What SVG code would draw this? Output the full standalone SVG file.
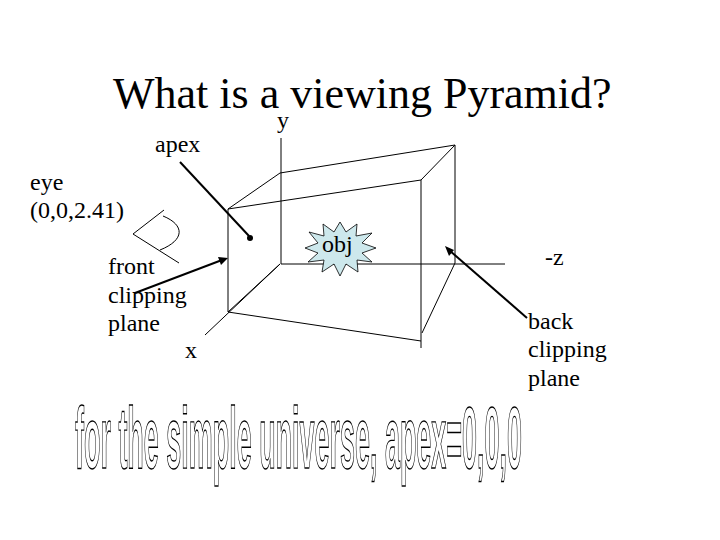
<svg xmlns="http://www.w3.org/2000/svg" width="720" height="540" viewBox="0 0 720 540">
<rect width="720" height="540" fill="#fff"/>
<text x="113" y="108" font-size="44" style="font-family:'Liberation Serif',serif">What is a viewing Pyramid?</text>
<g id="box">
<path stroke="#000" fill="none" d="M281,138V264H505M280,264L205,335M228,209L421,180V348M228,209V312L421,341M228,209L280,173L455,145V263L422,333M421,180L455,145M228,312L280,264"/>
</g>
<g id="eye"><path stroke="#000" fill="none" d="M164,210L133,234L179,263M163,216C185,225 185,240 160,250"/></g>
<g id="obj"><path d="M340,222L346,232L357,224L356,236L372,233L362,243L376,248L362,253L372,262L357,260L358,272L346,264L340,276L334,264L322,272L324,260L308,262L318,253L305,248L318,243L309,232L324,236L323,224L334,232Z" fill="#cde8ec" stroke="#000" stroke-width="0.8"/><text x="322" y="252" font-size="24" style="font-family:'Liberation Serif',serif">obj</text></g>
<g id="connectors" stroke="#000" stroke-width="2" fill="none">
<path d="M180,162L249,236"/>
<path d="M135,293L222,260"/>
<path d="M527,318L449,250"/>
</g>
<circle cx="250" cy="238" r="3"/>
<polygon points="228,258 218,257 221,265"/>
<polygon points="445,246 449,256 454,250"/>
<g id="labels" font-size="24" style="font-family:'Liberation Serif',serif">
<text x="277" y="128">y</text>
<text x="155" y="152">apex</text>
<text x="30" y="190">eye</text>
<text x="30" y="218">(0,0,2.41)</text>
<text x="108" y="274">front</text>
<text x="108" y="303">clipping</text>
<text x="108" y="331">plane</text>
<text x="185" y="358">x</text>
<text x="545" y="265">-z</text>
<text x="528" y="329">back</text>
<text x="528" y="357">clipping</text>
<text x="528" y="386">plane</text>
</g>
<text transform="translate(75,468) scale(1,2.9)" style="font-family:'Liberation Sans',sans-serif" font-weight="bold" font-size="30" textLength="447" lengthAdjust="spacingAndGlyphs" fill="#fff" stroke="#000" stroke-width="0.5">for the simple universe, apex=0,0,0</text>
</svg>
